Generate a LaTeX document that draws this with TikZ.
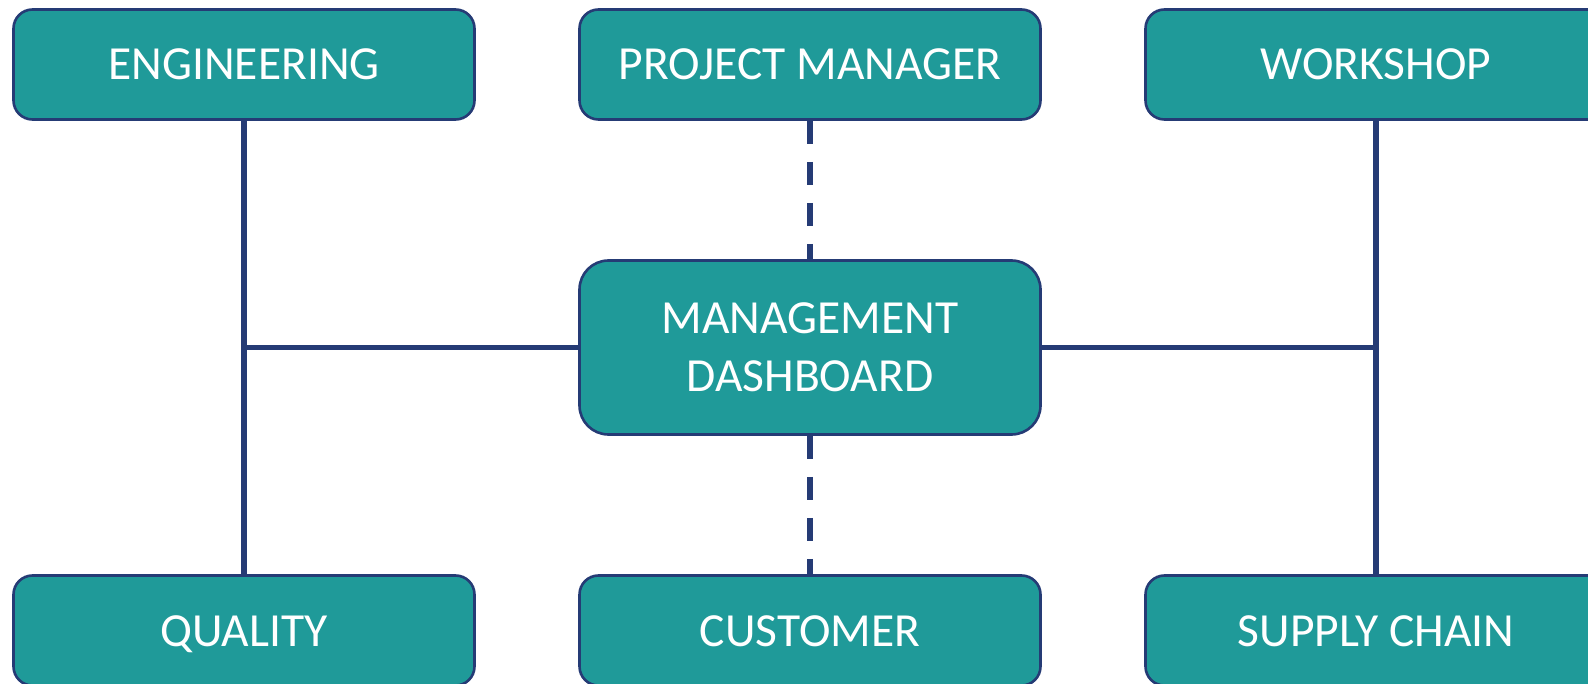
\documentclass[tikz,border=0pt]{standalone}
\usepackage{fontspec}
\setmainfont{Carlito}
\definecolor{boxfill}{HTML}{1F9A99}
\definecolor{boxline}{HTML}{253B75}
\tikzset{
  base/.style={rectangle, rounded corners=19pt, minimum width=461pt, minimum height=110pt,
    inner sep=0pt, draw=boxline, line width=2.6pt, fill=boxfill, text=white,
    font=\fontsize{47.5}{58}\selectfont},
  unit/.style={base, text height=31pt, text depth=0pt},
  hub/.style={base, align=center, minimum height=174pt, rounded corners=29pt},
  link/.style={draw=boxline, line width=5.5pt},
  dlink/.style={link, dash pattern=on 23pt off 18pt}
}
\begin{document}
\begin{tikzpicture}[x=1pt,y=-1pt]
\useasboundingbox (0,0) rectangle (1588,684);
\clip (0,0) rectangle (1588,684);
\node[unit] (eng) at (244,64.5) {ENGINEERING};
\node[unit] (pm) at (810,64.5) {PROJECT MANAGER};
\node[unit] (ws) at (1376,64.5) {WORKSHOP};
\node[hub] (dash) at (810,347.5) {MANAGEMENT\\DASHBOARD};
\node[unit] (qual) at (244,630.5) {QUALITY};
\node[unit] (cust) at (810,630.5) {CUSTOMER};
\node[unit] (sc) at (1376,630.5) {SUPPLY CHAIN};
\draw[link] (eng.south) -- (qual.north);
\draw[link] (ws.south) -- (sc.north);
\draw[link] (dash.west) -- (dash.west -| eng.south);
\draw[link] (dash.east) -- (dash.east -| ws.south);
\draw[dlink] (pm.south) -- (dash.north);
\draw[dlink] (dash.south) -- (cust.north);
\end{tikzpicture}
\end{document}
